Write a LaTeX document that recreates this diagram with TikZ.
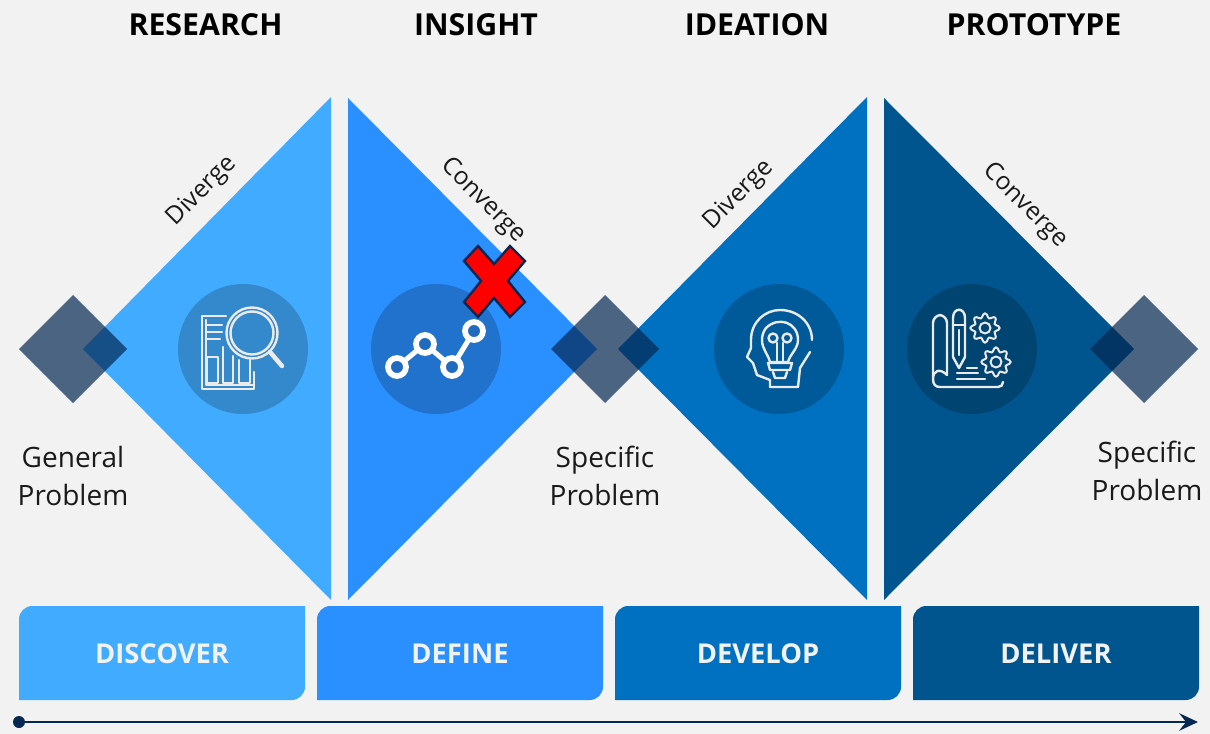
\documentclass[tikz,border=0pt]{standalone}
\usepackage{fontspec}
\setmainfont{Open Sans}
\usetikzlibrary{arrows.meta, shapes.geometric}
\definecolor{bgGrey}{HTML}{F2F2F2}
\definecolor{discoverBlue}{HTML}{41ABFF}
\definecolor{defineBlue}{HTML}{2A8FFF}
\definecolor{developBlue}{HTML}{0070C0}
\definecolor{deliverBlue}{HTML}{00558F}
\definecolor{navyInk}{HTML}{052852}
\definecolor{labelInk}{HTML}{1A1A1A}
\tikzset{
  heading/.style={font=\fontsize{22.7}{27}\selectfont\bfseries, text=black, inner sep=0pt},
  sidelabel/.style={font=\fontsize{21}{29}\selectfont, text=labelInk, align=center, inner sep=0pt},
  slopelabel/.style={font=\fontsize{18.5}{25}\selectfont, text=labelInk, inner sep=0pt},
  boxlabel/.style={font=\fontsize{20.5}{25}\selectfont\bfseries, text=white!95!black, inner sep=0pt},
  junction/.style={fill=navyInk, fill opacity=.7},
  iconback/.style={fill=black, fill opacity=.2},
  iconline/.style={draw=white!92!black, line width=1.8pt, line join=round, line cap=round},
  cogwheel/.pic={
    \draw[iconline, line width=1.5pt] plot[smooth cycle, samples=48, domain=0:352.5] (\x:{12.5+2.2*cos(8*\x)});
    \draw[iconline, line width=1.5pt] (0,0) circle (5.5);
  }
}
\begin{document}
\begin{tikzpicture}[x=0.75pt, y=-0.75pt]
  \fill[bgGrey] (0,0) rectangle (1210,734);
  \useasboundingbox (0,0) rectangle (1210,734);

  % triangles
  \fill[discoverBlue] (331,97) -- (83,349) -- (331,600) -- cycle;
  \fill[defineBlue] (348,98) -- (597,349) -- (348,600) -- cycle;
  \fill[developBlue] (867,97) -- (618,349) -- (867,600) -- cycle;
  \fill[deliverBlue] (884,98) -- (1134,349) -- (884,600) -- cycle;

  % diamonds
  \foreach \cx in {73,605,1144}
    \fill[junction] (\cx-54,349) -- (\cx,295) -- (\cx+54,349) -- (\cx,403) -- cycle;

  % icon backgrounds
  \foreach \cx in {243,436,779,972}
    \fill[iconback] (\cx,349) circle (65);

  % research icon
  \draw[iconline] (226,316) -- (202,316) -- (202,389) -- (254,389) -- (254,372);
  \draw[iconline] (206,320) -- (206,385) -- (254,385);
  \draw[iconline] (207,325) -- (222,325) (207,332) -- (222,332) (207,339) -- (220,339);
  \draw[iconline] (207,357) rectangle (218,383);
  \draw[iconline] (223,347) -- (223,383) -- (233,383) -- (233,356);
  \draw[iconline] (239,360) -- (239,383) -- (250,383) -- (250,360);
  \draw[iconline] (252,333) circle (25.5);
  \draw[iconline] (252,333) circle (21.5);
  \draw[iconline, line width=3.4pt] (270,352) -- (282,366);

  % insight icon
  \draw[draw=white, line width=3.8pt] (397,367) -- (425,344) -- (452,367) -- (474,331);
  \foreach \cx/\cy in {397/367,425/344,452/367,474/331}
    \draw[draw=white, line width=4.3pt, fill=defineBlue!75!black] (\cx,\cy) circle (9);

  % ideation icon
  \draw[iconline] (770,387) -- (770,380) -- (757,375) -- (753,363) -- (747,357) -- (751,348) -- (751,340)
    .. controls (751,322) and (765,310) .. (780,310)
    .. controls (798,310) and (812,323) .. (812,340);
  \draw[iconline] (810,352) -- (800,368) -- (798,387) -- (770,387);
  \draw[iconline] (766,328) .. controls (778,316) and (798,322) .. (798,340)
    .. controls (798,349) and (790,354) .. (788,362) -- (770,362)
    .. controls (768,354) and (762,349) .. (762,340) .. controls (762,336) and (763,332) .. (766,328);
  \draw[iconline] (768,363) -- (792,363) -- (790,370) -- (770,370) -- cycle;
  \draw[iconline] (773,372) -- (775,378) -- (785,378) -- (787,372);
  \draw[iconline] (773,338) circle (4.5) (787,338) circle (4.5);
  \draw[iconline] (777,343) -- (777,362) (783,343) -- (783,362);

  % prototype icon
  \draw[iconline, rounded corners=6pt] (933,377) -- (933,315) -- (947,315) -- (947,375);
  \draw[iconline] (947,375) .. controls (940,368) and (933,370) .. (933,379)
    .. controls (933,385) and (936,387) .. (940,387) -- (998,387) .. controls (1001,387) and (1003,385) .. (1003,382);
  \draw[iconline] (953,357) -- (953,318) .. controls (953,307) and (965,307) .. (965,318) -- (965,357) -- (959,368) -- cycle;
  \draw[iconline] (953,325) -- (965,325) (959,330) -- (959,355);
  \draw[iconline] (967,368) -- (977,368) (957,373) -- (978,373) (957,379) -- (985,379);
  \pic at (985,328) {cogwheel};
  \pic at (996,362) {cogwheel};

  % red cross
  \draw[draw=navyInk, fill=red, line width=1.8pt, line join=miter]
    (478,246) -- (494,264) -- (510,246) -- (525,261) -- (508,281) -- (525,302) -- (510,317)
    -- (494,298) -- (478,317) -- (464,302) -- (481,281) -- (464,261) -- cycle;

  % headings
  \node[heading] (research) at (205.5,25) {RESEARCH};
  \node[heading] (insight) at (476,25) {INSIGHT};
  \node[heading] (ideation) at (757,25) {IDEATION};
  \node[heading] (prototype) at (1034,25) {PROTOTYPE};

  % slope labels
  \node[slopelabel, rotate=45] (divergeA) at (202,191) {Diverge};
  \node[slopelabel, rotate=-45] (convergeA) at (483,201) {Converge};
  \node[slopelabel, rotate=45] (divergeB) at (739,195) {Diverge};
  \node[slopelabel, rotate=-45] (convergeB) at (1025,206) {Converge};

  % side labels
  \node[sidelabel] (general) at (73,476) {General\\Problem};
  \node[sidelabel] (specificA) at (605,476) {Specific\\Problem};
  \node[sidelabel] (specificB) at (1147,471) {Specific\\Problem};

  % phase boxes
  \foreach \lx/\col/\txt in {19/discoverBlue/DISCOVER,317/defineBlue/DEFINE,615/developBlue/DEVELOP,913/deliverBlue/DELIVER} {
    \fill[\col] (\lx,700) [rounded corners=10pt] -- (\lx,606) [sharp corners] -- (\lx+286,606)
      [rounded corners=10pt] -- (\lx+286,700) [sharp corners] -- cycle;
    \node[boxlabel] (box\txt) at (\lx+143,654) {\txt};
  }

  % time axis
  \coordinate (axisStart) at (19,722);
  \coordinate (axisEnd) at (1198,722);
  \fill[navyInk] (axisStart) circle (6);
  \draw[navyInk, line width=2.2pt, -{Stealth[length=14pt,width=13pt,inset=5pt]}] (axisStart) -- (axisEnd);
\end{tikzpicture}
\end{document}
